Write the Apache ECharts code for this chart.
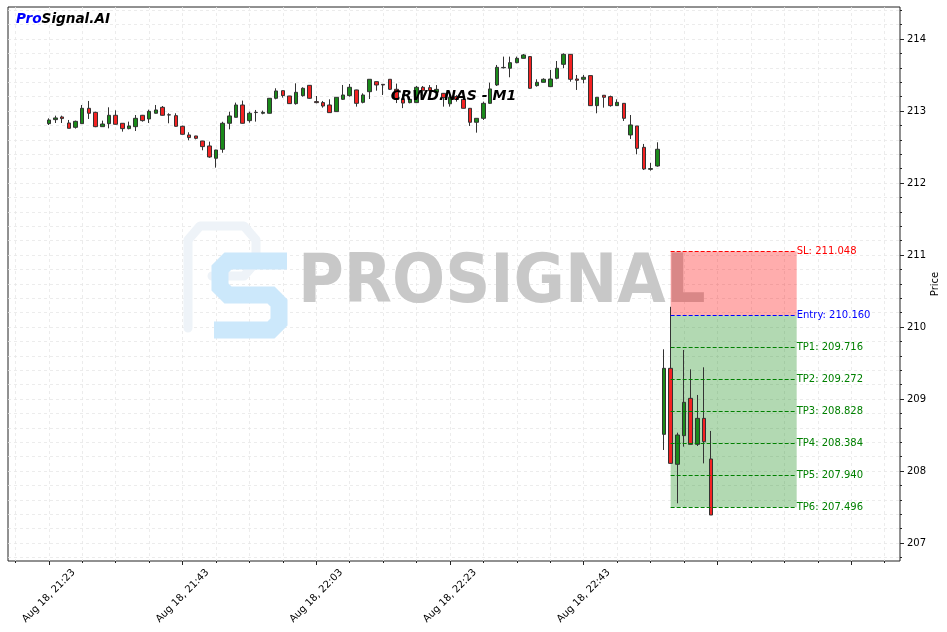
<!DOCTYPE html>
<html>
<head>
<meta charset="utf-8">
<script src="https://cdn.jsdelivr.net/npm/echarts@6/dist/echarts.min.js"></script>
<style>
html,body{margin:0;padding:0;background:#fff;}
#chart{width:947px;height:632px;}
</style>
</head>
<body>
<div id="chart"></div>
<script>
// ---- Data (minutes after Aug 18, 21:23, one candle per minute) ----
const opens = [212.824,212.880,212.917,212.833,212.773,212.824,213.037,212.981,212.782,212.824,
212.940,212.829,212.755,212.782,212.940,212.889,212.968,213.051,212.947,212.935,
212.787,212.667,212.653,212.583,212.514,212.343,212.468,212.829,212.912,213.083,
212.866,212.981,212.968,212.968,213.176,213.282,213.208,213.102,213.213,213.356,
213.130,213.116,213.083,212.991,213.162,213.213,213.292,213.120,213.268,213.407,
213.370,213.440,213.301,213.170,213.116,213.116,213.329,213.324,213.260,213.245,
213.100,213.200,213.162,213.037,212.843,212.898,213.106,213.361,213.600,213.593,
213.671,213.731,213.755,213.352,213.398,213.338,213.454,213.648,213.787,213.444,
213.440,213.491,213.074,213.218,213.199,213.074,213.106,212.667,212.792,212.495,
212.190,212.236,208.509,209.426,208.093,208.491,209.009,208.370,208.731,208.167];
const closes = [212.875,212.903,212.894,212.759,212.856,213.037,212.968,212.782,212.819,212.940,
212.815,212.755,212.792,212.898,212.866,212.995,213.014,212.940,212.944,212.787,
212.676,212.630,212.620,212.505,212.361,212.458,212.829,212.931,213.083,212.829,
212.968,212.978,212.981,213.176,213.278,213.213,213.102,213.259,213.315,213.176,
213.116,213.069,212.977,213.190,213.222,213.329,213.106,213.222,213.440,213.361,
213.361,213.301,213.160,213.110,213.162,213.329,213.282,213.282,213.300,213.185,
213.190,213.160,213.037,212.843,212.898,213.106,213.306,213.606,213.605,213.671,
213.731,213.778,213.315,213.398,213.440,213.444,213.593,213.787,213.440,213.426,
213.468,213.074,213.190,213.190,213.074,213.120,212.898,212.806,212.481,212.194,
212.200,212.468,209.426,208.106,208.500,208.954,208.370,208.731,208.407,207.389];
const lows = [212.805,212.833,212.833,212.759,212.755,212.824,212.889,212.775,212.780,212.759,
212.812,212.713,212.745,212.722,212.852,212.833,212.965,212.935,212.829,212.783,
212.672,212.593,212.606,212.454,212.350,212.213,212.420,212.745,212.910,212.825,
212.838,212.852,212.954,212.965,213.162,213.185,213.100,213.088,213.199,213.170,
213.106,213.046,212.975,212.990,213.153,213.199,213.060,213.106,213.166,213.282,
213.222,213.292,213.110,213.040,213.106,213.115,213.199,213.200,213.200,213.060,
213.060,213.130,213.035,212.792,212.699,212.875,213.100,213.347,213.590,213.468,
213.662,213.730,213.310,213.338,213.398,213.335,213.440,213.593,213.407,213.292,
213.384,213.070,212.968,213.046,213.060,213.070,212.861,212.611,212.398,212.180,
212.171,212.227,208.292,208.100,207.551,208.338,208.370,208.347,208.106,207.389];
const highs = [212.898,212.935,212.935,212.875,212.866,213.083,213.139,212.990,212.866,213.051,
213.009,212.830,212.852,212.944,212.945,213.018,213.083,213.069,212.968,212.968,
212.796,212.704,212.655,212.585,212.574,212.460,212.850,212.990,213.116,213.144,
212.990,213.014,213.005,213.180,213.315,213.285,213.210,213.384,213.329,213.360,
213.208,213.139,213.162,213.190,213.361,213.375,213.295,213.245,213.440,213.410,
213.370,213.440,213.380,213.230,213.199,213.347,213.347,213.360,213.360,213.250,
213.230,213.220,213.199,213.040,212.900,213.130,213.393,213.639,213.755,213.755,
213.755,213.792,213.760,213.440,213.454,213.569,213.694,213.800,213.790,213.500,
213.500,213.491,213.190,213.220,213.213,213.162,213.110,212.944,212.792,212.542,
212.280,212.565,209.690,210.280,208.532,209.681,209.412,209.056,209.440,208.556];

const tickLabels = ["Aug 18, 21:23","Aug 18, 21:43","Aug 18, 22:03","Aug 18, 22:23","Aug 18, 22:43"];
const tickMinutes = [0,20,40,60,80];
const majorTickMinutes = [0,20,40,60,80,100,120];

const levelNames = ["SL","Entry","TP1","TP2","TP3","TP4","TP5","TP6"];
const levelValues = [211.048,210.160,209.716,209.272,208.828,208.384,207.940,207.496];
const levelColors = ["#ff0000","#0000ff","#008000","#008000","#008000","#008000","#008000","#008000"];
const entryIndex = 93;
const zoneEnd = 111.85;

const yLabels = [207,208,209,210,211,212,213,214];

// ---- build ----
const candleData = opens.map((o,i)=>[i,o,closes[i],lows[i],highs[i]]);
const minorX = []; for(let m=-5;m<=125;m+=5) minorX.push(m);
const minorY = []; for(let k=2068;k<=2144;k+=2) minorY.push(k/10);

const fontFam = "DejaVu Sans";
const chart = echarts.init(document.getElementById('chart'), null, {renderer:'canvas'});

const markLines = levelNames.map((n,i)=>[
  {coord:[entryIndex, levelValues[i]], lineStyle:{color:levelColors[i]},
   label:{formatter: n + ': ' + levelValues[i].toFixed(3), color: levelColors[i]}},
  {coord:[zoneEnd, levelValues[i]]}
]);

const option = {
  animation:false,
  backgroundColor:'#ffffff',
  grid:{left:8, top:7, width:892, height:554, show:true, borderColor:'#222', borderWidth:1,
        backgroundColor:'transparent', containLabel:false, outerBoundsMode:'none'},
  xAxis:[
    {type:'value', min:-6.1, max:127.3, position:'bottom',
     axisLine:{show:false, onZero:false},
     axisTick:{show:true, customValues:majorTickMinutes, length:4, lineStyle:{color:'#222'}},
     axisLabel:{show:true, customValues:tickMinutes, rotate:45, align:'center', verticalAlign:'middle', margin:35,
       fontFamily:fontFam, fontSize:10, color:'#000',
       formatter:(v)=>{const k=tickMinutes.indexOf(Math.round(v)); return k>=0?tickLabels[k]:'';}},
     splitLine:{show:false}},
    {type:'value', min:-6.1, max:127.3, position:'bottom',
     axisLine:{show:false, onZero:false},
     axisTick:{show:true, customValues:minorX, length:2, lineStyle:{color:'#222'}},
     axisLabel:{show:false},
     splitLine:{show:true, lineStyle:{color:'#e8e8e8', type:[3,3], width:0.8}}}
  ],
  yAxis:[
    {type:'value', min:206.75, max:214.444, position:'right',
     axisLine:{show:false, onZero:false},
     axisTick:{show:true, customValues:yLabels, length:4, lineStyle:{color:'#222'}},
     axisLabel:{show:true, customValues:yLabels, margin:7, fontFamily:fontFam, fontSize:10, color:'#000'},
     splitLine:{show:false},
     name:'Price', nameLocation:'middle', nameGap:30, nameRotate:90, nameMoveOverlap:false,
     nameTextStyle:{fontFamily:fontFam, fontSize:10, color:'#000'}},
    {type:'value', min:206.75, max:214.444, position:'right',
     axisLine:{show:false, onZero:false},
     axisTick:{show:true, customValues:minorY, length:2, lineStyle:{color:'#222'}},
     axisLabel:{show:false},
     splitLine:{show:true, lineStyle:{color:'#e8e8e8', type:[3,3], width:0.8}}}
  ],
  graphic:[
    // faint P outline of logo
    {type:'polyline', z:1, silent:true,
     shape:{points:[[188,328],[188,240],[200,226],[244,226],[256,240],[256,262],[244,276],[212,276]]},
     style:{stroke:'#eef3f8', lineWidth:9, fill:null, lineJoin:'round', lineCap:'round'}},
    // blue S of logo
    {type:'polyline', z:1, silent:true,
     shape:{points:[[287,261],[228,261],[220,269],[220,287],[228,295],[271,295],[279,303],[279,322],[271,330],[214,330]]},
     style:{stroke:'#cce8fb', lineWidth:17, fill:null, lineJoin:'miter'}},
    {type:'text', z:1, silent:true, x:298, y:284, scaleX:0.92, originX:0, originY:0,
     style:{text:'PROSIGNAL', fontFamily:fontFam, fontWeight:'bold', fontSize:68, fill:'#c8c8c8', verticalAlign:'middle', align:'left'}},
    {type:'text', z:100, x:16, y:19,
     style:{text:'{a|Pro}{b|Signal.AI}', verticalAlign:'middle', align:'left',
       rich:{a:{fill:'#0000ff', fontFamily:fontFam, fontWeight:'bold', fontStyle:'italic', fontSize:13.6},
             b:{fill:'#000', fontFamily:fontFam, fontWeight:'bold', fontStyle:'italic', fontSize:13.6}}}},
    {type:'text', z:100, x:453.5, y:96,
     style:{text:'CRWD.NAS - M1', fontFamily:fontFam, fontWeight:'bold', fontStyle:'italic', fontSize:14, fill:'#000', align:'center', verticalAlign:'middle'}}
  ],
  series:[
    {type:'candlestick', xAxisIndex:0, yAxisIndex:0, z:3,
     data:candleData, encode:{x:0, y:[1,2,3,4]}, barWidth:4,
     itemStyle:{color:'#1a8a1a', color0:'#f42222', borderColor:'#333', borderColor0:'#333', borderWidth:1}},
    {type:'line', xAxisIndex:0, yAxisIndex:0, z:5, silent:true, showSymbol:false,
     data:[[entryIndex, levelValues[1]]], lineStyle:{opacity:0},
     markArea:{silent:true, itemStyle:{opacity:1},
       data:[
         [{coord:[entryIndex, levelValues[0]], itemStyle:{color:'rgba(255,0,0,0.32)'}},{coord:[zoneEnd, levelValues[1]]}],
         [{coord:[entryIndex, levelValues[1]], itemStyle:{color:'rgba(0,128,0,0.3)'}},{coord:[zoneEnd, levelValues[7]]}]
       ]},
     markLine:{silent:true, symbol:['none','none'],
       lineStyle:{type:[4,2], width:1},
       label:{show:true, position:'end', distance:0, fontFamily:fontFam, fontSize:10},
       data:markLines}}
  ]
};
chart.setOption(option);
</script>
</body>
</html>
